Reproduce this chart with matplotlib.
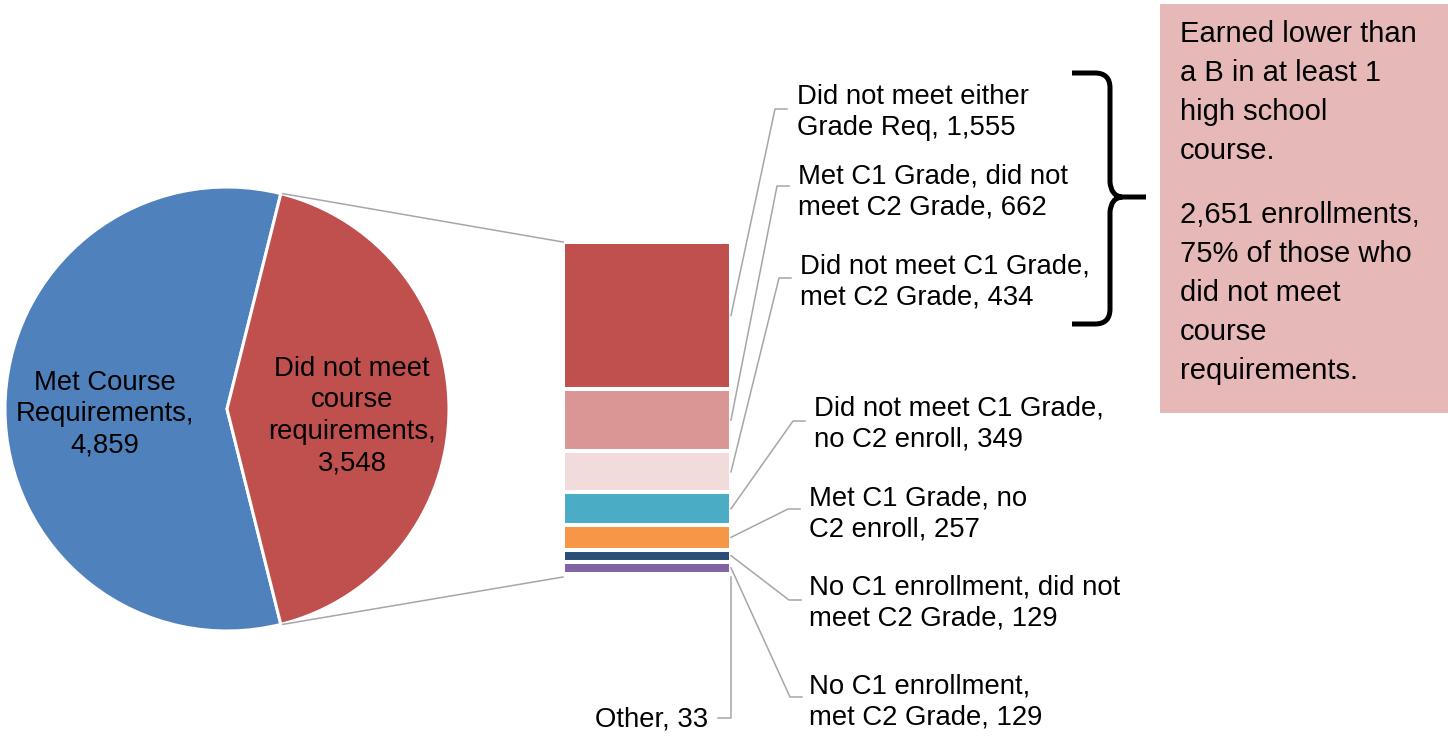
"""
Pie-of-bar: course requirements, with a breakdown of the enrollments
that did not meet course requirements.
"""

import math
import matplotlib
matplotlib.use("Agg")
import matplotlib.pyplot as plt
from matplotlib.path import Path
from matplotlib.patches import PathPatch, Rectangle

plt.rcParams["font.family"] = ["Liberation Sans", "DejaVu Sans"]

# --- data -----------------------------------------------------------------
pie_labels = ["Met Course\nRequirements", "Did not meet\ncourse\nrequirements"]
pie_values = [4859, 3548]
pie_colors = ["#4F81BD", "#C0504D"]

bar_labels = [
    "Did not meet either\nGrade Req",
    "Met C1 Grade, did not\nmeet C2 Grade",
    "Did not meet C1 Grade,\nmet C2 Grade",
    "Did not meet C1 Grade,\nno C2 enroll",
    "Met C1 Grade, no\nC2 enroll",
    "No C1 enrollment, did not\nmeet C2 Grade",
    "No C1 enrollment,\nmet C2 Grade",
    "Other",
]
bar_values = [1555, 662, 434, 349, 257, 129, 129, 33]
bar_colors = ["#C0504D", "#D99694", "#F2DCDB", "#4BACC6",
              "#F79646", "#2C4D75", "#8064A2", "#9BBB59"]

# --- layout (pixel coordinates, y downwards) -------------------------------
W, H = 1448, 737
PIE_C = (227, 409)
PIE_R = 222
BAR_X0, BAR_X1 = 563, 731
BAR_TOP, BAR_BOT = 242, 577

# label anchor (x, y center) and leader elbow (x, y) per bar segment
lab_pos = [(797, 112), (798, 192), (800, 282), (814, 424),
           (809, 514), (809, 603), (809, 702), (708, 720)]
elbow = [(775, 109), (777, 186), (779, 278), (793, 421),
         (788, 509), (789, 600), (790, 697), (731, 718)]

FS = 19.8
LS = 1.25
FS_BOX = 21.0
LS_BOX = 1.5
GREY = "#A6A6A6"

fig = plt.figure(figsize=(W / 100, H / 100), dpi=100)
ax = fig.add_axes([0, 0, 1, 1])

# pie, red slice centred on the right
total = sum(pie_values)
half = 180.0 * pie_values[1] / total
ax.pie(pie_values, colors=pie_colors, startangle=half, center=PIE_C,
       radius=PIE_R, wedgeprops=dict(edgecolor="white", linewidth=2.2))

ax.set_xlim(0, W)
ax.set_ylim(H, 0)
ax.set_aspect("equal")
ax.axis("off")

ax.text(105, 414, f"{pie_labels[0]},\n{pie_values[0]:,}", ha="center",
        va="center", fontsize=FS, linespacing=LS)
ax.text(352, 416, f"{pie_labels[1]},\n{pie_values[1]:,}", ha="center",
        va="center", fontsize=FS, linespacing=1.28)

# stacked bar, scaled to its pixel span
bar_total = sum(bar_values)
scale = (BAR_BOT - BAR_TOP) / bar_total
heights = [v * scale for v in bar_values]
bottoms = [BAR_TOP + sum(heights[:i]) for i in range(len(heights))]
ax.bar([(BAR_X0 + BAR_X1) / 2] * len(bar_values), heights, bottom=bottoms,
       width=BAR_X1 - BAR_X0, color=bar_colors, edgecolor="white",
       linewidth=2.9)

# connectors from the pie to the bar
dx = PIE_R * math.cos(math.radians(half))
dy = PIE_R * math.sin(math.radians(half))
ax.plot([PIE_C[0] + dx + 2, BAR_X0], [PIE_C[1] - dy, BAR_TOP], color=GREY, lw=1.1)
ax.plot([PIE_C[0] + dx + 2, BAR_X0], [PIE_C[1] + dy, BAR_BOT], color=GREY, lw=1.1)

# segment labels with leader lines
for i, (lab, v) in enumerate(zip(bar_labels, bar_values)):
    mid = bottoms[i] + heights[i] / 2
    lx, ly = lab_pos[i]
    ex, ey = elbow[i]
    if lab == "Other":
        ax.plot([BAR_X1, BAR_X1, 718], [bottoms[i] + heights[i], ey, ey],
                color=GREY, lw=1.1)
        ax.text(lx, ly, f"{lab}, {v:,}", ha="right", va="center", fontsize=FS)
    else:
        ax.plot([BAR_X1, ex, ex + 12], [mid, ey, ey], color=GREY, lw=1.1)
        ax.text(lx, ly, f"{lab}, {v:,}", ha="left", va="center", fontsize=FS,
                linespacing=LS)

# curly brace over the first three segments
verts = [(1072, 73), (1095, 73), (1110, 73), (1110, 88), (1110, 182),
         (1111, 196), (1122, 197), (1146, 197),
         (1122, 197), (1111, 198), (1110, 212), (1110, 309),
         (1110, 324), (1095, 324), (1072, 324)]
codes = [Path.MOVETO, Path.LINETO, Path.CURVE3, Path.CURVE3, Path.LINETO,
         Path.CURVE3, Path.CURVE3, Path.LINETO,
         Path.MOVETO, Path.CURVE3, Path.CURVE3, Path.LINETO,
         Path.CURVE3, Path.CURVE3, Path.LINETO]
ax.add_patch(PathPatch(Path(verts, codes), fill=False, lw=3.6,
                       edgecolor="black", capstyle="butt"))

# note box
ax.add_patch(Rectangle((1160, 4), W - 1160, 409, facecolor="#E6B9B8",
                       edgecolor="none"))
n_low = sum(bar_values[:3])
pct = round(100 * n_low / bar_total)
ax.text(1180, 20, "Earned lower than\na B in at least 1\nhigh school\ncourse.",
        ha="left", va="top", fontsize=FS_BOX, linespacing=LS_BOX)
ax.text(1180, 201, f"{n_low:,} enrollments,\n{pct}% of those who\n"
        "did not meet\ncourse\nrequirements.",
        ha="left", va="top", fontsize=FS_BOX, linespacing=LS_BOX)

fig.savefig("out.png", dpi=100)
